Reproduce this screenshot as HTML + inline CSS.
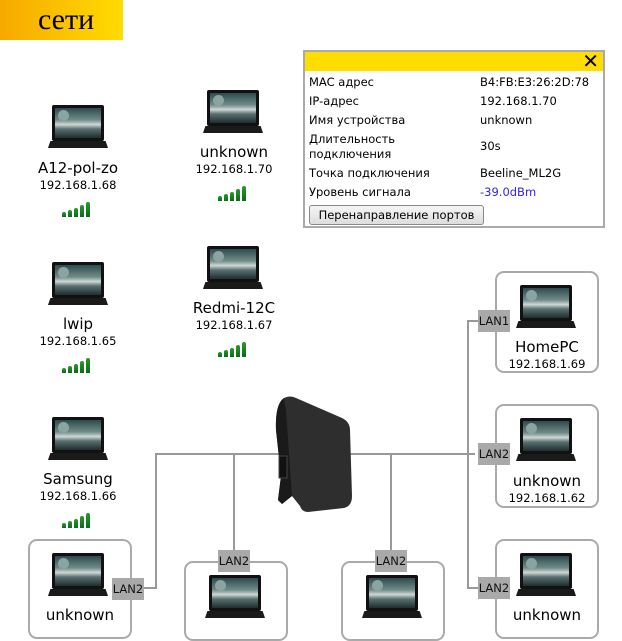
<!DOCTYPE html>
<html><head><meta charset="utf-8"><style>
*{margin:0;padding:0;box-sizing:border-box}
body{width:622px;height:623px;overflow:hidden;background:#fff;position:relative;font-family:"DejaVu Sans","Liberation Sans",sans-serif;color:#000}
.a{position:absolute}
.title{left:0;top:0;width:123px;height:40px;background:linear-gradient(90deg,#f7a800,#ffdc00);font-family:"Liberation Serif",serif;font-size:30px;padding-left:38px;line-height:40px}
.lap{position:absolute;width:60px;height:44px}
.lap .scr{position:absolute;left:4px;top:0;width:52px;height:36px;background:#111;border-radius:2px}
.lap .scr i{position:absolute;left:3px;top:3px;width:46px;height:30px;background:linear-gradient(180deg,#2e4a4d 0%,#6f8c8a 40%,#cfd8d4 55%,#5a6f70 70%,#1e2d2f 100%)}
.lap .scr b{position:absolute;left:6px;top:5px;width:11px;height:11px;border-radius:50%;background:#8aa3a3}
.lap .base{position:absolute;left:0;top:36px;width:60px;height:7px;background:#1a1a1a;clip-path:polygon(4% 0,96% 0,100% 100%,0 100%)}
.nm{position:absolute;font-size:15px;text-align:center;width:140px}
.ip{position:absolute;font-size:11.5px;text-align:center;width:140px}
.sig{position:absolute;width:32px;height:18px}
.sig i{position:absolute;bottom:0;width:4px;background:linear-gradient(#2a9a2a,#0a6a1a);border-radius:2px 2px 0 0}
.box{position:absolute;border:2px solid #aaa;border-radius:9px;width:104px}
.ln{position:absolute;background:#999}
.lan{position:absolute;background:#a9a9a9;font-size:11.5px;line-height:22px;width:32px;height:22px;text-align:center;color:#111}
.pop{left:303px;top:50px;width:302px;height:178px;border:2px solid #aaa;background:#fff;font-size:11.5px}
.pop .hd{height:19px;background:#ffdd00;position:relative}
.pop .x{position:absolute;right:4px;top:-3px;font-size:20px}
.pop .r{position:absolute;left:4px}
.pop .v{position:absolute;left:175px}
.btn{position:absolute;left:4px;top:153px;width:175px;height:20px;border:1px solid #888;border-radius:3px;background:linear-gradient(#f6f6f6,#ddd);font-size:11.5px;line-height:18px;text-align:center}
</style></head><body>
<div class="a title">сети</div>

<div class="ln" style="left:155px;top:453px;width:320px;height:2px"></div>
<div class="ln" style="left:155px;top:453px;width:2px;height:136px"></div>
<div class="ln" style="left:143px;top:587px;width:14px;height:2px"></div>
<div class="ln" style="left:233px;top:453px;width:2px;height:100px"></div>
<div class="ln" style="left:390px;top:453px;width:2px;height:100px"></div>
<div class="ln" style="left:467px;top:320px;width:2px;height:269px"></div>
<div class="ln" style="left:467px;top:320px;width:12px;height:2px"></div>
<div class="ln" style="left:467px;top:587px;width:12px;height:2px"></div>

<svg class="a" style="left:272px;top:396px" width="82" height="116" viewBox="0 0 82 116">
<path d="M12 2 Q18 -1 24 2 L70 22 Q78 26 78 34 L80 100 Q80 110 72 112 L36 116 Q30 116 28 110 L20 100 L10 108 L6 104 L9 80 L4 34 Q3 8 12 2Z" fill="#2e2e2e"/>
<path d="M4 34 L9 80 L6 104 L10 108 L20 100 L14 14 Q12 4 12 2 Q3 8 4 34Z" fill="#1a1a1a"/>
<rect x="7" y="60" width="8" height="22" fill="#111" stroke="#444"/>
</svg>

<div class="lap" style="left:48px;top:105px"><div class="scr"><i></i><b></b></div><div class="base"></div></div>
<div class="nm" style="left:8px;top:159px">A12-pol-zo</div>
<div class="ip" style="left:8px;top:178px">192.168.1.68</div>
<div class="sig" style="left:62px;top:199px"><i style="left:0;height:5px"></i><i style="left:6px;height:7px"></i><i style="left:12px;height:9px"></i><i style="left:18px;height:12px"></i><i style="left:24px;height:15px"></i></div>

<div class="lap" style="left:203px;top:90px"><div class="scr"><i></i><b></b></div><div class="base"></div></div>
<div class="nm" style="left:164px;top:143px">unknown</div>
<div class="ip" style="left:164px;top:162px">192.168.1.70</div>
<div class="sig" style="left:218px;top:183px"><i style="left:0;height:5px"></i><i style="left:6px;height:7px"></i><i style="left:12px;height:9px"></i><i style="left:18px;height:12px"></i><i style="left:24px;height:15px"></i></div>

<div class="lap" style="left:48px;top:262px"><div class="scr"><i></i><b></b></div><div class="base"></div></div>
<div class="nm" style="left:8px;top:315px">lwip</div>
<div class="ip" style="left:8px;top:334px">192.168.1.65</div>
<div class="sig" style="left:62px;top:355px"><i style="left:0;height:5px"></i><i style="left:6px;height:7px"></i><i style="left:12px;height:9px"></i><i style="left:18px;height:12px"></i><i style="left:24px;height:15px"></i></div>

<div class="lap" style="left:203px;top:246px"><div class="scr"><i></i><b></b></div><div class="base"></div></div>
<div class="nm" style="left:164px;top:299px">Redmi-12C</div>
<div class="ip" style="left:164px;top:318px">192.168.1.67</div>
<div class="sig" style="left:218px;top:339px"><i style="left:0;height:5px"></i><i style="left:6px;height:7px"></i><i style="left:12px;height:9px"></i><i style="left:18px;height:12px"></i><i style="left:24px;height:15px"></i></div>

<div class="lap" style="left:48px;top:417px"><div class="scr"><i></i><b></b></div><div class="base"></div></div>
<div class="nm" style="left:8px;top:470px">Samsung</div>
<div class="ip" style="left:8px;top:489px">192.168.1.66</div>
<div class="sig" style="left:62px;top:510px"><i style="left:0;height:5px"></i><i style="left:6px;height:7px"></i><i style="left:12px;height:9px"></i><i style="left:18px;height:12px"></i><i style="left:24px;height:15px"></i></div>

<div class="box" style="left:495px;top:271px;height:102px"></div>
<div class="lap" style="left:516px;top:285px"><div class="scr"><i></i><b></b></div><div class="base"></div></div>
<div class="nm" style="left:477px;top:338px">HomePC</div>
<div class="ip" style="left:477px;top:357px">192.168.1.69</div>
<div class="lan" style="left:478px;top:310px">LAN1</div>

<div class="box" style="left:495px;top:404px;height:104px"></div>
<div class="lap" style="left:516px;top:418px"><div class="scr"><i></i><b></b></div><div class="base"></div></div>
<div class="nm" style="left:477px;top:472px">unknown</div>
<div class="ip" style="left:477px;top:491px">192.168.1.62</div>
<div class="lan" style="left:478px;top:443px">LAN2</div>

<div class="box" style="left:495px;top:539px;height:100px"></div>
<div class="lap" style="left:516px;top:553px"><div class="scr"><i></i><b></b></div><div class="base"></div></div>
<div class="nm" style="left:477px;top:606px">unknown</div>
<div class="lan" style="left:478px;top:577px">LAN2</div>

<div class="box" style="left:28px;top:539px;height:100px"></div>
<div class="lap" style="left:48px;top:553px"><div class="scr"><i></i><b></b></div><div class="base"></div></div>
<div class="nm" style="left:10px;top:606px">unknown</div>
<div class="lan" style="left:112px;top:578px">LAN2</div>

<div class="box" style="left:184px;top:561px;height:80px"></div>
<div class="lap" style="left:205px;top:575px"><div class="scr"><i></i><b></b></div><div class="base"></div></div>
<div class="lan" style="left:218px;top:550px">LAN2</div>

<div class="box" style="left:341px;top:561px;height:80px"></div>
<div class="lap" style="left:362px;top:575px"><div class="scr"><i></i><b></b></div><div class="base"></div></div>
<div class="lan" style="left:375px;top:550px">LAN2</div>

<div class="a pop">
<div class="hd"><span class="x">✕</span></div>
<div class="r" style="top:23px">MAC адрес</div><div class="v" style="top:23px">B4:FB:E3:26:2D:78</div>
<div class="r" style="top:42px">IP-адрес</div><div class="v" style="top:42px">192.168.1.70</div>
<div class="r" style="top:61px">Имя устройства</div><div class="v" style="top:61px">unknown</div>
<div class="r" style="top:80px;line-height:15px">Длительность<br>подключения</div><div class="v" style="top:87px">30s</div>
<div class="r" style="top:114px">Точка подключения</div><div class="v" style="top:114px">Beeline_ML2G</div>
<div class="r" style="top:133px">Уровень сигнала</div><div class="v" style="top:133px;color:#3322ee">-39.0dBm</div>
<div class="btn">Перенаправление портов</div>
</div>
</body></html>
